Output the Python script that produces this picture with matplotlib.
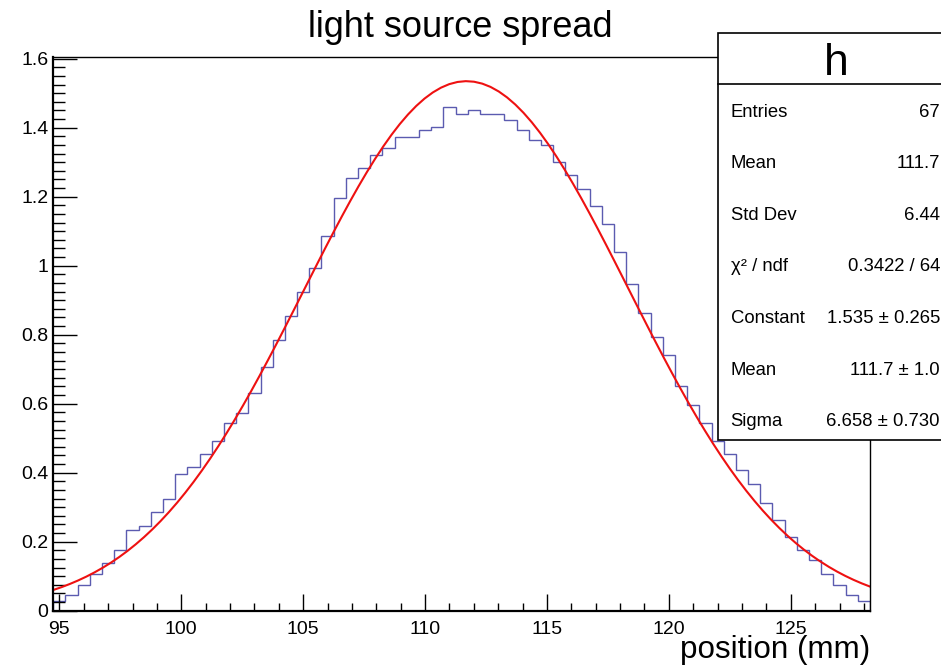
import numpy as np
import matplotlib
matplotlib.use("Agg")
import matplotlib.pyplot as plt
from matplotlib.ticker import MultipleLocator, FormatStrFormatter
from matplotlib.patches import Rectangle

plt.rcParams['font.family'] = ['Liberation Sans', 'DejaVu Sans']

# histogram "h": 67 bins of 0.5 mm
x_lo, x_hi = 94.75, 128.25
counts = [0.028, 0.045, 0.074, 0.105, 0.139, 0.175, 0.235, 0.245, 0.285, 0.325,
          0.395, 0.416, 0.455, 0.492, 0.543, 0.572, 0.632, 0.705, 0.784, 0.853,
          0.925, 0.992, 1.086, 1.195, 1.254, 1.283, 1.320, 1.341, 1.372, 1.372,
          1.392, 1.401, 1.461, 1.440, 1.450, 1.440, 1.440, 1.423, 1.392, 1.363,
          1.351, 1.300, 1.262, 1.223, 1.173, 1.121, 1.040, 0.946, 0.864, 0.792,
          0.741, 0.652, 0.595, 0.543, 0.491, 0.455, 0.407, 0.366, 0.313, 0.264,
          0.214, 0.177, 0.146, 0.105, 0.074, 0.045, 0.029]

# gaus fit parameters
fit_const = 1.535
fit_mean = 111.7
fit_sigma = 6.658

stat_labels = ["Entries", "Mean", "Std Dev", "\u03c7\u00b2 / ndf", "Constant", "Mean", "Sigma"]
stat_values = ["67", "111.7", "6.44", "0.3422 / 64", "1.535 \u00b1 0.265", "111.7 \u00b1 1.0", "6.658 \u00b1 0.730"]

W, H = 941, 666
fig = plt.figure(figsize=(W / 100, H / 100), dpi=100)
ax = fig.add_axes([53.3 / W, 1 - 610.7 / H, (870 - 53.3) / W, (610.7 - 57) / H])

edges = np.linspace(x_lo, x_hi, len(counts) + 1)
ax.stairs(counts, edges, baseline=0, color='#5b5bb0', lw=1.0)

xf = np.linspace(x_lo, x_hi, 100)
yf = fit_const * np.exp(-0.5 * ((xf - fit_mean) / fit_sigma) ** 2)
ax.plot(xf, yf, color='#ee1111', lw=1.5)

ax.set_xlim(x_lo, x_hi)
ax.set_ylim(0, 1.605)
ax.xaxis.set_major_locator(MultipleLocator(5))
ax.xaxis.set_minor_locator(MultipleLocator(1))
ax.yaxis.set_major_locator(MultipleLocator(0.2))
ax.yaxis.set_minor_locator(MultipleLocator(0.025))
ax.yaxis.set_major_formatter(FormatStrFormatter('%g'))

ax.tick_params(axis='both', which='both', direction='in', width=1.0, labelsize=14)
ax.tick_params(axis='x', which='major', length=12.5, pad=7.5)
ax.tick_params(axis='x', which='minor', length=6)
ax.tick_params(axis='y', which='major', length=17.5, pad=3.6)
ax.tick_params(axis='y', which='minor', length=8.5)
for s in ['left', 'bottom']:
    ax.spines[s].set_linewidth(1.6)
for s in ['top', 'right']:
    ax.spines[s].set_linewidth(1.0)

fig.text(460.5 / W, 1 - 36.7 / H, "light source spread", fontsize=26,
         ha='center', va='baseline')
fig.text(870 / W, 1 - 658 / H, "position (mm)", fontsize=22.6,
         ha='right', va='baseline')

# stats box
bx0, by0, by1 = 718.3 / W, 1 - 440 / H, 1 - 33.3 / H
fig.patches.append(Rectangle((bx0, by0), 0.4, by1 - by0, transform=fig.transFigure,
                             facecolor='white', edgecolor='black', lw=1.2, zorder=5))
fig.add_artist(plt.Line2D([bx0, 1.0], [1 - 84.3 / H] * 2, transform=fig.transFigure,
                          color='black', lw=1.2, zorder=6))
fig.text(836 / W, 1 - 75 / H, "h", fontsize=32, ha='center', va='baseline', zorder=7)
for i, (lab, val) in enumerate(zip(stat_labels, stat_values)):
    yb = 1 - (116.7 + 51.6 * i) / H
    fig.text(730.7 / W, yb, lab, fontsize=13.3, ha='left', va='baseline', zorder=7)
    fig.text(940 / W, yb, val, fontsize=13.3, ha='right', va='baseline', zorder=7)

fig.savefig("out.png", dpi=100)
